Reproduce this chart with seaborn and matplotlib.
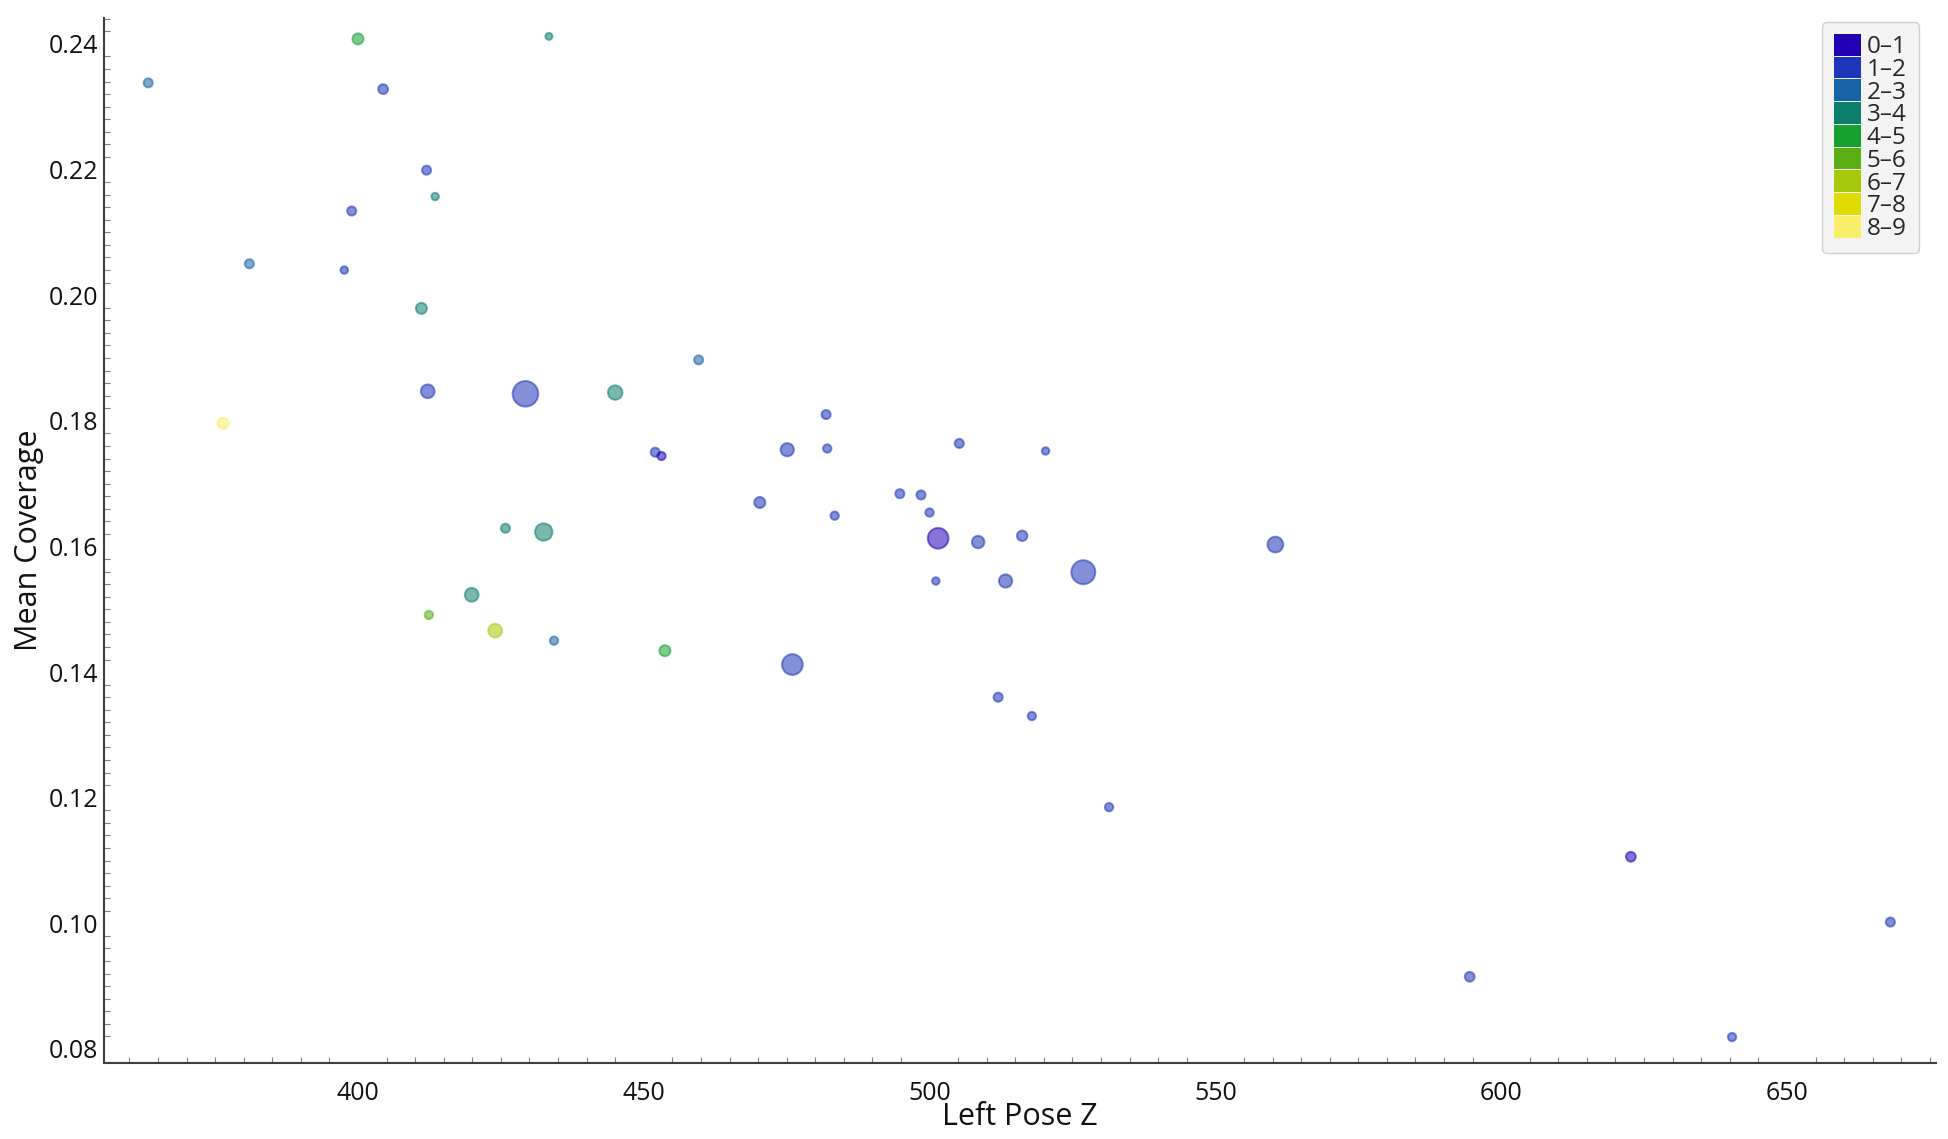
import numpy as np
import pandas as pd
import matplotlib
matplotlib.use("Agg")
import matplotlib.pyplot as plt
from matplotlib.patches import Patch
from matplotlib.ticker import MultipleLocator, FormatStrFormatter
import seaborn as sns

sns.set_style("white")
plt.rcParams['font.family'] = ['Open Sans', 'DejaVu Sans']

# values
left_pose_z = [363.3, 400.0, 433.4, 404.4, 412.0, 413.5, 398.9, 381.0, 397.6, 411.1,
               459.6, 412.2, 429.3, 445.0, 376.4, 481.9, 452.0, 453.1, 475.1, 482.1,
               505.2, 520.3, 470.3, 494.8, 498.5, 500.0, 483.4, 425.8, 432.5, 501.5,
               508.5, 516.2, 560.5, 526.9, 501.1, 513.3, 419.9, 412.4, 424.0, 434.3,
               453.7, 476.0, 512.0, 517.9, 531.4, 622.7, 594.5, 668.1, 640.4]
mean_coverage = [0.2338, 0.2408, 0.2412, 0.2328, 0.2199, 0.2157, 0.2134, 0.2050, 0.2040, 0.1979,
                 0.1897, 0.1847, 0.1843, 0.1845, 0.1796, 0.1810, 0.1750, 0.1744, 0.1754, 0.1756,
                 0.1764, 0.1752, 0.1670, 0.1684, 0.1682, 0.1654, 0.1649, 0.1629, 0.1623, 0.1613,
                 0.1607, 0.1617, 0.1603, 0.1559, 0.1545, 0.1545, 0.1523, 0.1491, 0.1466, 0.1450,
                 0.1434, 0.1412, 0.1360, 0.1330, 0.1185, 0.1106, 0.0915, 0.1002, 0.0819]
bin_label = ['2–3', '4–5', '3–4', '1–2', '1–2', '3–4', '1–2', '2–3', '1–2', '3–4',
             '2–3', '1–2', '1–2', '3–4', '8–9', '1–2', '1–2', '0–1', '1–2', '1–2',
             '1–2', '1–2', '1–2', '1–2', '1–2', '1–2', '1–2', '3–4', '3–4', '0–1',
             '1–2', '1–2', '1–2', '1–2', '1–2', '1–2', '3–4', '5–6', '6–7', '2–3',
             '4–5', '1–2', '1–2', '1–2', '1–2', '0–1', '1–2', '1–2', '1–2']
point_size = [12, 18, 7, 14, 12, 8, 12, 12, 8, 18,
              12, 28, 98, 31, 18, 12, 12, 10, 26, 10,
              12, 8, 18, 12, 12, 10, 10, 12, 45, 64,
              23, 16, 37, 86, 8, 26, 28, 10, 28, 10,
              18, 64, 12, 10, 10, 14, 14, 12, 10]

bins = ['0–1', '1–2', '2–3', '3–4', '4–5', '5–6', '6–7', '7–8', '8–9']
bin_colors = ['#2200b4', '#1e35b9', '#1763a5', '#0d7d6c', '#16a030',
              '#5aae14', '#a8c80c', '#dedc00', '#f8ee6a']

df = pd.DataFrame({'Left Pose Z': left_pose_z, 'Mean Coverage': mean_coverage,
                   'bin': bin_label, 'size': point_size})

fig = plt.figure(figsize=(19.48, 11.39), dpi=100)
ax = fig.add_axes([0.0532, 0.0669, 0.9404, 0.9177])

sns.scatterplot(data=df, x='Left Pose Z', y='Mean Coverage', hue='bin',
                hue_order=bins, palette=dict(zip(bins, bin_colors)),
                size='size', sizes=(26, 340), size_norm=(7, 98),
                alpha=0.55, edgecolor='face', linewidth=1.4,
                legend=False, ax=ax)

ax.set_xlim(355.5, 676)
ax.set_ylim(0.0778, 0.2442)

ax.xaxis.set_major_locator(MultipleLocator(50))
ax.xaxis.set_minor_locator(MultipleLocator(5))
ax.yaxis.set_major_locator(MultipleLocator(0.02))
ax.yaxis.set_minor_locator(MultipleLocator(0.002))
ax.yaxis.set_major_formatter(FormatStrFormatter('%.2f'))

ax.tick_params(axis='x', which='major', direction='in', length=9, width=1.2,
               color='#404040', labelsize=18, pad=13, labelcolor='#111111')
ax.tick_params(axis='x', which='minor', direction='in', length=4, width=0.8,
               color='#808080', bottom=True)
ax.tick_params(axis='y', which='major', direction='inout', length=8, width=1.2,
               color='#404040', labelsize=18, pad=0, labelcolor='#111111')
ax.tick_params(axis='y', which='minor', direction='in', length=4, width=0.8,
               color='#808080', left=True)

sns.despine(ax=ax)
for side in ['left', 'bottom']:
    ax.spines[side].set_color('#404040')
    ax.spines[side].set_linewidth(1.5)

ax.set_xlabel('Left Pose Z', fontsize=22, labelpad=-3, color='#111111')
ax.set_ylabel('Mean Coverage', fontsize=22, labelpad=3, color='#111111')

handles = [Patch(facecolor=c, edgecolor='none') for c in bin_colors]
leg = fig.legend(handles, bins, loc='upper right', bbox_to_anchor=(0.985, 0.981),
                 borderaxespad=0, fontsize=17.5, labelspacing=-0.1, handlelength=1.1,
                 handleheight=1.0, handletextpad=0.25, borderpad=0.5,
                 frameon=True, fancybox=True)
leg.get_frame().set_facecolor('#f3f3f3')
leg.get_frame().set_edgecolor('#d0d0d0')
leg.get_frame().set_alpha(1)

fig.savefig('out.png', dpi=100, facecolor='white')
